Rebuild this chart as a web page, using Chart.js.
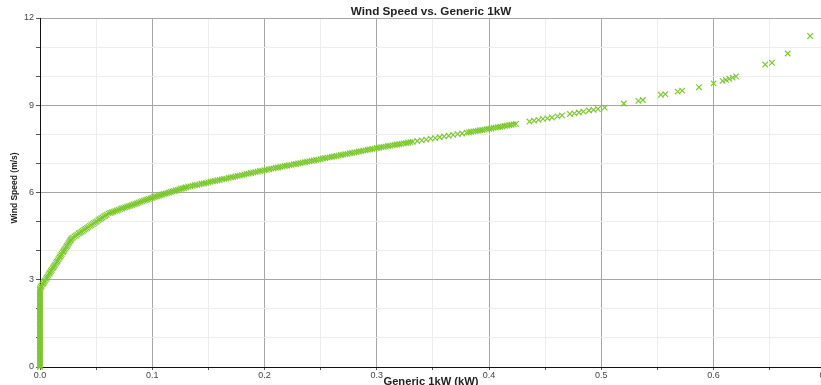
<!DOCTYPE html>
<html>
<head>
<meta charset="utf-8">
<script src="https://cdn.jsdelivr.net/npm/chart.js@4/dist/chart.umd.min.js"></script>
<style>
  html, body { margin: 0; padding: 0; overflow: hidden; background: #fff; }
  #wrap { width: 831px; height: 385px; }
</style>
</head>
<body>
<div id="wrap"><canvas id="c" width="831" height="385"></canvas></div>
<script>
// ---- data ----
const chartTitle = 'Wind Speed vs. Generic 1kW';
const xAxisTitle = 'Generic 1kW (kW)';
const yAxisTitle = 'Wind Speed (m/s)';
const xTickLabels = ['0.0','0.1','0.2','0.3','0.4','0.5','0.6','0.7'];
const yTickLabels = ['0','3','6','9','12'];

// Generic 1kW output (kW)
const powerKW = [
  0,0,0,0,0,0,0,0,0,0,0,0,0,0,0,0,0,0,0,0,0,0,0,0,0,0,0,0,0,0,0,0,0,0,0,0,0,0,0,0,0,0,0,0,0,0,0,0,0,0,0,0,0,0,0,
  0.0008,0.0015,0.0023,0.003,0.0038,0.0045,0.0053,0.006,0.0068,0.0075,0.0083,0.009,0.0098,0.0105,0.0113,0.012,0.0128,0.0135,0.0143,0.015,
  0.0158,0.0165,0.0173,0.018,0.0188,0.0195,0.0203,0.021,0.0218,0.0225,0.0233,0.024,0.0248,0.0255,0.0263,0.027,0.0276,0.0282,
  0.0295,0.0307,0.032,0.0332,0.0345,0.0357,0.037,0.0382,0.0395,0.0407,0.042,0.0432,0.0445,0.0457,0.047,0.0482,0.0495,0.0507,0.052,0.0532,
  0.0545,0.0557,0.057,0.0582,0.0595,0.061,
  0.0625,0.064,0.0655,0.067,0.0685,0.070,0.0715,0.073,0.0745,0.076,0.0775,0.079,0.0805,0.082,0.0835,0.085,0.0865,0.088,0.0895,0.091,
  0.0925,0.094,0.0955,0.097,0.0985,0.100,
  0.1015,0.103,0.1045,0.106,0.1075,0.109,0.1105,0.112,0.1135,0.115,0.1165,0.118,0.1195,0.121,0.1225,0.124,0.1255,0.127,0.1285,0.130,
  0.132,0.134,0.136,0.138,0.140,0.142,0.144,0.146,0.148,0.150,0.152,0.154,0.156,0.158,0.160,0.162,0.164,0.166,0.168,0.170,
  0.172,0.174,0.176,0.178,0.180,0.182,0.184,0.186,0.188,0.190,0.192,0.194,0.196,0.198,0.200,
  0.202,0.204,0.206,0.208,0.210,0.212,0.214,0.216,0.218,0.220,0.222,0.224,0.226,0.228,0.230,0.232,0.234,0.236,0.238,0.240,
  0.242,0.244,0.246,0.248,0.250,0.252,0.254,0.256,0.258,0.260,0.262,0.264,0.266,0.268,0.270,0.272,0.274,0.276,0.278,0.280,
  0.282,0.284,0.286,0.288,0.290,0.292,0.294,0.296,0.298,0.300,
  0.302,0.304,0.306,0.308,0.310,0.312,0.314,0.316,0.318,0.320,0.322,0.324,0.326,0.328,0.330,0.332,0.336,0.340,0.344,0.348,
  0.352,0.356,0.360,0.364,0.368,0.372,0.376,0.380,0.382,0.384,0.386,0.388,0.390,0.392,0.394,0.396,0.398,0.400,
  0.402,0.404,0.406,0.408,0.410,0.412,0.414,0.416,0.418,0.420,0.422,0.424,
  0.436,0.440,0.444,0.448,0.452,0.456,0.461,0.465,
  0.472,0.476,0.480,0.484,0.489,0.493,0.497,0.503,
  0.520,0.533,0.537,0.553,0.557,0.568,0.572,0.587,0.600,0.608,0.611,0.614,0.617,0.620,0.646,0.652,0.666,0.686
];
// Wind speed (m/s)
const windSpeed = [
  0,0.05,0.1,0.15,0.2,0.25,0.3,0.35,0.4,0.45,0.5,0.55,0.6,0.65,0.7,0.75,0.8,0.85,0.9,0.95,1.0,1.05,1.1,1.15,1.2,1.25,1.3,1.35,
  1.4,1.45,1.5,1.55,1.6,1.65,1.7,1.75,1.8,1.85,1.9,1.95,2.0,2.05,2.1,2.15,2.2,2.25,2.3,2.35,2.4,2.45,2.5,2.55,2.6,2.65,2.7,
  2.75,2.79,2.84,2.88,2.93,2.97,3.02,3.07,3.11,3.16,3.21,3.25,3.30,3.34,3.39,3.43,3.48,3.52,3.57,3.62,
  3.66,3.71,3.76,3.80,3.85,3.89,3.94,3.98,4.03,4.07,4.12,4.16,4.21,4.26,4.30,4.35,4.38,4.42,
  4.45,4.49,4.52,4.55,4.59,4.62,4.65,4.68,4.72,4.75,4.78,4.82,4.85,4.88,4.91,4.95,4.98,5.01,5.05,5.08,
  5.11,5.14,5.18,5.21,5.24,5.28,
  5.30,5.32,5.34,5.36,5.38,5.40,5.43,5.45,5.47,5.49,5.51,5.53,5.55,5.57,5.59,5.61,5.63,5.65,5.68,5.70,
  5.72,5.74,5.76,5.78,5.80,5.82,
  5.84,5.86,5.87,5.89,5.91,5.93,5.95,5.96,5.98,6.00,6.02,6.04,6.05,6.07,6.09,6.11,6.13,6.14,6.16,6.18,
  6.20,6.21,6.23,6.25,6.26,6.28,6.30,6.31,6.33,6.35,6.37,6.38,6.40,6.42,6.43,6.45,6.47,6.48,6.50,6.52,
  6.53,6.55,6.57,6.58,6.60,6.62,6.64,6.65,6.67,6.69,6.70,6.72,6.74,6.75,6.77,
  6.78,6.80,6.82,6.83,6.85,6.86,6.88,6.89,6.91,6.92,6.94,6.95,6.97,6.98,7.00,7.01,7.03,7.04,7.06,7.07,
  7.09,7.10,7.12,7.13,7.15,7.17,7.18,7.20,7.21,7.23,7.24,7.26,7.27,7.29,7.30,7.32,7.33,7.35,7.36,7.38,
  7.39,7.41,7.42,7.44,7.45,7.47,7.48,7.50,7.51,7.53,
  7.54,7.56,7.57,7.58,7.60,7.61,7.62,7.64,7.65,7.66,7.68,7.69,7.70,7.72,7.73,7.74,7.77,7.79,7.82,7.85,
  7.87,7.90,7.93,7.95,7.98,8.01,8.03,8.06,8.07,8.09,8.10,8.11,8.12,8.14,8.15,8.16,8.18,8.19,
  8.20,8.22,8.23,8.25,8.26,8.27,8.29,8.30,8.32,8.33,8.34,8.36,
  8.44,8.47,8.50,8.53,8.55,8.58,8.62,8.65,
  8.70,8.72,8.75,8.78,8.82,8.84,8.87,8.92,
  9.06,9.15,9.18,9.36,9.38,9.47,9.50,9.62,9.75,9.84,9.87,9.91,9.95,9.99,10.40,10.46,10.78,11.38
];

const points = powerKW.map((x, i) => ({ x: x, y: windSpeed[i] }));

const FONT = '"Liberation Sans", Arial, sans-serif';
const isMajorX = v => Math.round(v * 100) % 10 === 0;
const isMajorY = v => Math.round(v) % 3 === 0;

const textPlugin = {
  id: 'texts',
  afterDraw(chart) {
    const ctx = chart.ctx;
    ctx.save();
    ctx.fillStyle = '#222';
    ctx.textAlign = 'center';
    ctx.textBaseline = 'middle';
    ctx.font = 'bold 11.7px ' + FONT;
    ctx.fillText(chartTitle, 431, 12);
    ctx.font = 'bold 11.2px ' + FONT;
    ctx.fillText(xAxisTitle, 431, 382);
    ctx.translate(15, 188);
    ctx.rotate(-Math.PI / 2);
    ctx.font = 'bold 8.5px ' + FONT;
    ctx.fillText(yAxisTitle, 0, 0);
    ctx.restore();
  }
};

new Chart(document.getElementById('c'), {
  type: 'scatter',
  data: {
    datasets: [{
      data: points,
      clip: false,
      pointStyle: 'crossRot',
      pointRadius: 3.9,
      borderWidth: 1.15,
      borderColor: 'rgb(124,200,48)',
      backgroundColor: 'rgb(124,200,48)'
    }]
  },
  options: {
    responsive: false,
    devicePixelRatio: 1,
    animation: false,
    layout: { padding: { left: 0, right: 0, top: 18, bottom: 0 } },
    plugins: { legend: { display: false }, tooltip: { enabled: false }, title: { display: false } },
    scales: {
      x: {
        type: 'linear',
        min: 0, max: 0.7,
        ticks: {
          stepSize: 0.05,
          autoSkip: false,
          maxRotation: 0,
          padding: 0,
          color: '#444',
          font: { family: FONT, size: 9 },
          callback: v => isMajorX(v) ? xTickLabels[Math.round(v * 10)] : ''
        },
        grid: {
          color: c => isMajorX(c.tick.value) ? '#a6a6a6' : '#ededed',
          lineWidth: 1,
          tickLength: 3,
          tickColor: '#555'
        },
        border: { display: true, color: '#111', width: 1 },
        afterFit(s) { s.height = 18; s.paddingLeft = 0; s.paddingRight = 0; }
      },
      y: {
        type: 'linear',
        min: 0, max: 12,
        ticks: {
          stepSize: 1,
          autoSkip: false,
          padding: 2,
          color: '#444',
          font: { family: FONT, size: 9 },
          callback: v => isMajorY(v) ? yTickLabels[Math.round(v / 3)] : ''
        },
        grid: {
          color: c => isMajorY(c.tick.value) ? '#a6a6a6' : '#ededed',
          lineWidth: 1,
          tickLength: 4,
          tickColor: '#555'
        },
        border: { display: true, color: '#111', width: 1 },
        afterFit(s) { s.width = 40; s.paddingTop = 0; s.paddingBottom = 0; }
      }
    }
  },
  plugins: [textPlugin]
});
</script>
</body>
</html>
